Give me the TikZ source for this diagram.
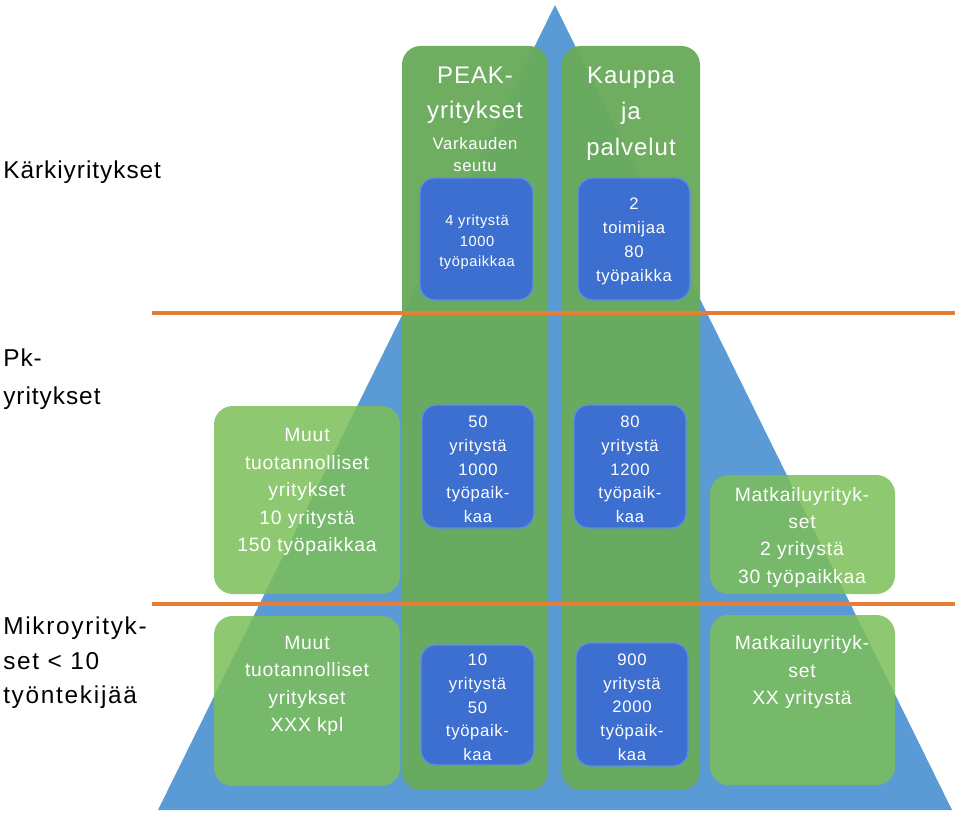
\documentclass[tikz,border=0pt]{standalone}
\usepackage{fontspec}
\setmainfont{Liberation Sans}[LetterSpace=4]
\newfontfamily\widefont{Liberation Sans}[LetterSpace=7]
\begin{document}
\begin{tikzpicture}[x=0.75pt,y=-0.75pt,
  col/.style={fill=colgreen,fill opacity=0.96,rounded corners=14pt,inner sep=0pt},
  gbox/.style={fill=boxgreen,fill opacity=0.86,rounded corners=14pt,inner sep=0pt},
  bbox/.style={draw=bluerim,line width=1pt,fill=boxblue,rounded corners=11pt,inner sep=0pt},
  wtxt/.style={text=white,align=center,inner sep=0pt},
  ktxt/.style={text=black,align=left,inner sep=0pt,anchor=west},
  sep/.style={draw=sepor,line width=3pt}]
\definecolor{tri}{HTML}{5A9BD5}
\definecolor{colgreen}{HTML}{69AB5B}
\definecolor{boxgreen}{HTML}{7CBF5A}
\definecolor{boxblue}{HTML}{3C6FCF}
\definecolor{bluerim}{HTML}{5F8FE0}
\definecolor{sepor}{HTML}{E57E34}
\useasboundingbox (0,0) rectangle (960,813);
% triangle
\fill[tri] (555,5) -- (952,810) -- (158,810) -- cycle;
% columns
\node[col,minimum width=146*0.75pt,minimum height=744*0.75pt] (colA) at (475,418) {};
\node[col,minimum width=138*0.75pt,minimum height=744*0.75pt] (colB) at (631,418) {};
% green boxes
\node[gbox,minimum width=186*0.75pt,minimum height=188*0.75pt] (g1) at (307,500) {};
\node[gbox,minimum width=186*0.75pt,minimum height=170*0.75pt] (g2) at (307,701) {};
\node[gbox,minimum width=185*0.75pt,minimum height=119*0.75pt] (g3) at (802.5,534.5) {};
\node[gbox,minimum width=185*0.75pt,minimum height=170*0.75pt] (g4) at (802.5,700) {};
% blue boxes
\node[bbox,minimum width=113*0.75pt,minimum height=122*0.75pt] (b1) at (476.5,239) {};
\node[bbox,minimum width=112*0.75pt,minimum height=122*0.75pt] (b2) at (634,239) {};
\node[bbox,minimum width=112*0.75pt,minimum height=123*0.75pt] (b3) at (478,466.5) {};
\node[bbox,minimum width=112*0.75pt,minimum height=123*0.75pt] (b4) at (630,466.5) {};
\node[bbox,minimum width=113*0.75pt,minimum height=120*0.75pt] (b5) at (477.5,705) {};
\node[bbox,minimum width=112*0.75pt,minimum height=123*0.75pt] (b6) at (632,704.5) {};
% separators
\coordinate (s1a) at (152,313); \coordinate (s1b) at (955,313);
\coordinate (s2a) at (152,604); \coordinate (s2b) at (955,604);
\draw[sep] (s1a) -- (s1b);
\draw[sep] (s2a) -- (s2b);
% left labels
\node[ktxt,font=\fontsize{18.3}{26}\selectfont] (l1) at (3,172) {Kärkiyritykset};
\node[ktxt,font=\fontsize{18.3}{28.5}\selectfont] (l2) at (3,379) {Pk-\\yritykset};
\node[ktxt,font=\widefont\fontsize{18.3}{26}\selectfont] (l3) at (3,663) {Mikroyrityk-\\set < 10\\työntekijää};
% column headers
\node[wtxt,font=\fontsize{18}{26}\selectfont] (tA) at (475,95.5) {PEAK-\\yritykset};
\node[wtxt,font=\fontsize{12.5}{17}\selectfont] (tA2) at (475,154.5) {Varkauden\\seutu};
\node[wtxt,font=\fontsize{18}{27}\selectfont] (tB) at (631,114) {Kauppa\\ja\\palvelut};
% blue box texts
\node[wtxt,font=\fontsize{11}{15.3}\selectfont] (t1) at (477,242.5) {4 yritystä\\1000\\työpaikkaa};
\node[wtxt,font=\fontsize{12.5}{18}\selectfont] (t2) at (634,241) {2\\toimijaa\\80\\työpaikka};
\node[wtxt,font=\fontsize{12.5}{17.8}\selectfont] (t3) at (478,469.5) {50\\yritystä\\1000\\työpaik-\\kaa};
\node[wtxt,font=\fontsize{12.5}{17.8}\selectfont] (t4) at (630,469.5) {80\\yritystä\\1200\\työpaik-\\kaa};
\node[wtxt,font=\fontsize{12.5}{17.8}\selectfont] (t5) at (477.5,707.5) {10\\yritystä\\50\\työpaik-\\kaa};
\node[wtxt,font=\fontsize{12.5}{17.8}\selectfont] (t6) at (632,707) {900\\yritystä\\2000\\työpaik-\\kaa};
% green box texts
\node[wtxt,font=\fontsize{14.5}{20.6}\selectfont] (tg1) at (307,492) {Muut\\tuotannolliset\\yritykset\\10 yritystä\\150 työpaikkaa};
\node[wtxt,font=\fontsize{14.5}{20.5}\selectfont] (tg2) at (307,686) {Muut\\tuotannolliset\\yritykset\\XXX kpl};
\node[wtxt,font=\fontsize{14.5}{20.5}\selectfont] (tg3) at (802,537) {Matkailuyrityk-\\set\\2 yritystä\\30 työpaikkaa};
\node[wtxt,font=\fontsize{14.5}{20.5}\selectfont] (tg4) at (802,672) {Matkailuyrityk-\\set\\XX yritystä};
\end{tikzpicture}
\end{document}
